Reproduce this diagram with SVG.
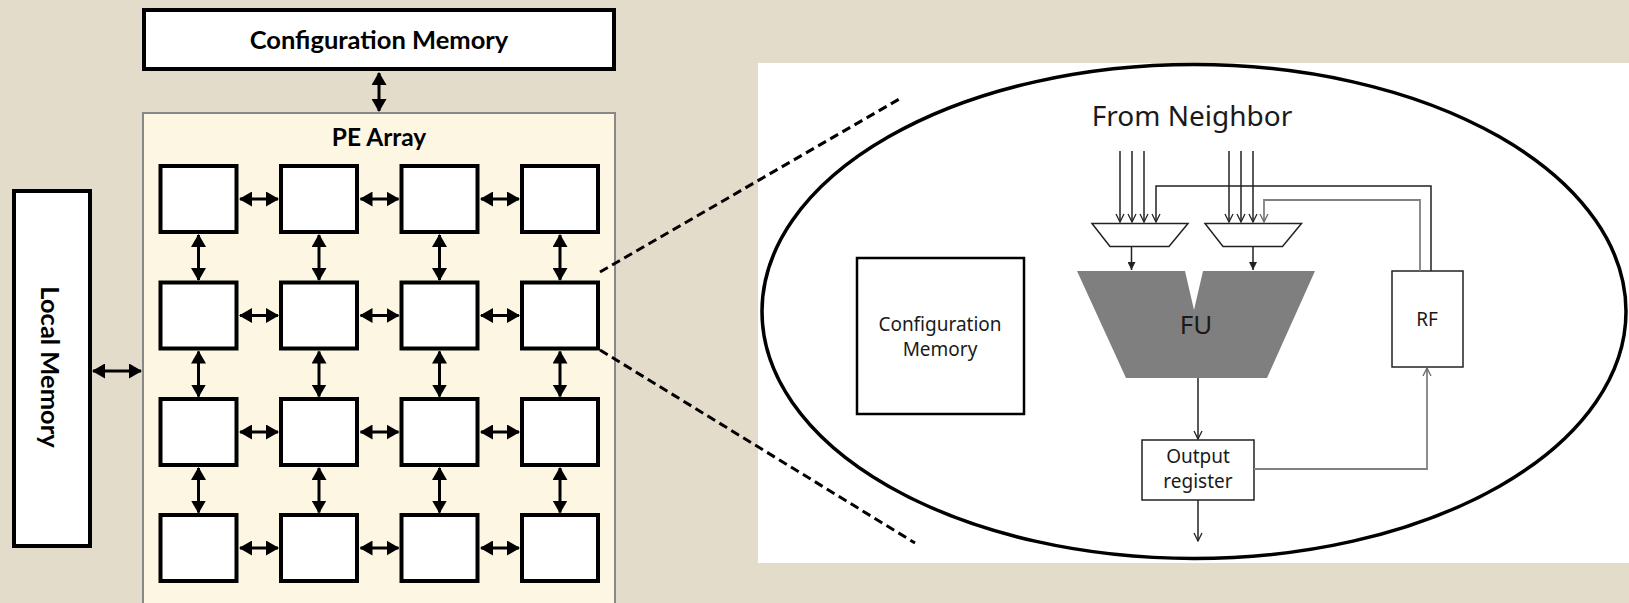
<svg xmlns="http://www.w3.org/2000/svg" width="1629" height="603" viewBox="0 0 1629 603">
<style>
.bold{font-family:Lato,"Liberation Sans",sans-serif;font-weight:700;fill:#000}
.thin{font-family:"Noto Sans","Open Sans",sans-serif;fill:#1a1a1a}
.pe{fill:#fff;stroke:#000;stroke-width:4}
.arr{stroke:#000;stroke-width:3;fill:none;marker-start:url(#fa);marker-end:url(#fa)}
.ln{stroke:#222;stroke-width:1.5;fill:none}
.lg{stroke:#808080;stroke-width:1.8;fill:none}
.dash{stroke:#000;stroke-width:3;stroke-dasharray:9,5;fill:none}
</style>
<defs>
<marker id="fa" markerUnits="userSpaceOnUse" markerWidth="13" markerHeight="15" viewBox="0 0 13 15" refX="12" refY="7.5" orient="auto-start-reverse">
<path d="M0,0 L13,7.5 L0,15 Z" fill="#000"/>
</marker>
<marker id="ov" markerUnits="userSpaceOnUse" markerWidth="10" markerHeight="10" viewBox="0 0 10 10" refX="9" refY="5" orient="auto">
<path d="M1,1 L9,5 L1,9" fill="none" stroke="#222" stroke-width="1.3"/>
</marker>
<marker id="ovg" markerUnits="userSpaceOnUse" markerWidth="10" markerHeight="10" viewBox="0 0 10 10" refX="9" refY="5" orient="auto">
<path d="M1,1 L9,5 L1,9" fill="none" stroke="#666" stroke-width="1.3"/>
</marker>
<marker id="sf" markerUnits="userSpaceOnUse" markerWidth="8" markerHeight="8" viewBox="0 0 8 8" refX="8" refY="4" orient="auto">
<path d="M0,0 L8,4 L0,8 Z" fill="#222"/>
</marker>
</defs>
<rect x="0" y="0" width="1629" height="603" fill="#e3dccb"/>

<g id="config-memory">
<rect x="144" y="10" width="470" height="59" fill="#fff" stroke="#000" stroke-width="4"/>
<text class="bold" x="379" y="49" font-size="25.5" text-anchor="middle">Configuration Memory</text>
</g>

<g id="local-memory">
<rect x="14" y="191" width="76" height="355" fill="#fff" stroke="#000" stroke-width="4"/>
<text class="bold" transform="translate(51,367) rotate(90)" x="0" y="0" font-size="25.5" text-anchor="middle" dominant-baseline="central">Local Memory</text>
</g>

<g id="pe-array">
<rect x="143" y="113" width="472" height="492" fill="#fdf6e3" stroke="#888" stroke-width="2"/>
<text class="bold" x="379" y="146" font-size="24.5" text-anchor="middle">PE Array</text>
</g>

<g id="pe-grid">
<rect class="pe" x="160.5" y="166" width="76" height="66"/>
<rect class="pe" x="281" y="166" width="76" height="66"/>
<rect class="pe" x="401.5" y="166" width="76" height="66"/>
<rect class="pe" x="522" y="166" width="76" height="66"/>
<rect class="pe" x="160.5" y="282.5" width="76" height="66"/>
<rect class="pe" x="281" y="282.5" width="76" height="66"/>
<rect class="pe" x="401.5" y="282.5" width="76" height="66"/>
<rect class="pe" x="522" y="282.5" width="76" height="66"/>
<rect class="pe" x="160.5" y="399" width="76" height="66"/>
<rect class="pe" x="281" y="399" width="76" height="66"/>
<rect class="pe" x="401.5" y="399" width="76" height="66"/>
<rect class="pe" x="522" y="399" width="76" height="66"/>
<rect class="pe" x="160.5" y="515" width="76" height="66"/>
<rect class="pe" x="281" y="515" width="76" height="66"/>
<rect class="pe" x="401.5" y="515" width="76" height="66"/>
<rect class="pe" x="522" y="515" width="76" height="66"/>
</g>

<g id="connectors">
<line class="arr" x1="379" y1="73" x2="379" y2="111"/>
<line class="arr" x1="93" y1="371" x2="141" y2="371"/>
<line class="arr" x1="240" y1="199" x2="278" y2="199"/>
<line class="arr" x1="360.5" y1="199" x2="398.5" y2="199"/>
<line class="arr" x1="481" y1="199" x2="519" y2="199"/>
<line class="arr" x1="240" y1="315.5" x2="278" y2="315.5"/>
<line class="arr" x1="360.5" y1="315.5" x2="398.5" y2="315.5"/>
<line class="arr" x1="481" y1="315.5" x2="519" y2="315.5"/>
<line class="arr" x1="240" y1="432" x2="278" y2="432"/>
<line class="arr" x1="360.5" y1="432" x2="398.5" y2="432"/>
<line class="arr" x1="481" y1="432" x2="519" y2="432"/>
<line class="arr" x1="240" y1="548" x2="278" y2="548"/>
<line class="arr" x1="360.5" y1="548" x2="398.5" y2="548"/>
<line class="arr" x1="481" y1="548" x2="519" y2="548"/>
<line class="arr" x1="198.5" y1="235" x2="198.5" y2="280"/>
<line class="arr" x1="319" y1="235" x2="319" y2="280"/>
<line class="arr" x1="439.5" y1="235" x2="439.5" y2="280"/>
<line class="arr" x1="560" y1="235" x2="560" y2="280"/>
<line class="arr" x1="198.5" y1="351.5" x2="198.5" y2="396.5"/>
<line class="arr" x1="319" y1="351.5" x2="319" y2="396.5"/>
<line class="arr" x1="439.5" y1="351.5" x2="439.5" y2="396.5"/>
<line class="arr" x1="560" y1="351.5" x2="560" y2="396.5"/>
<line class="arr" x1="198.5" y1="468" x2="198.5" y2="512.5"/>
<line class="arr" x1="319" y1="468" x2="319" y2="512.5"/>
<line class="arr" x1="439.5" y1="468" x2="439.5" y2="512.5"/>
<line class="arr" x1="560" y1="468" x2="560" y2="512.5"/>
</g>

<g id="zoom-panel">
<rect x="758" y="63" width="871" height="500" fill="#fff"/>
<ellipse cx="1194" cy="311.5" rx="432" ry="247" fill="none" stroke="#000" stroke-width="3.5"/>
</g>

<g id="zoom-lines">
<line class="dash" x1="600" y1="272" x2="901" y2="98"/>
<line class="dash" x1="600" y1="350" x2="915" y2="543"/>
</g>

<g id="from-neighbor">
<text class="thin" x="1192" y="126" font-size="28" text-anchor="middle">From Neighbor</text>
</g>

<g id="inner-config-memory">
<rect x="857" y="258" width="167" height="156" fill="#fff" stroke="#000" stroke-width="2.5"/>
<text class="thin" x="940" y="331" font-size="19" text-anchor="middle">Configuration</text>
<text class="thin" x="940" y="356" font-size="19" text-anchor="middle">Memory</text>
</g>

<g id="mux1">
<polygon points="1092,223.5 1188,223.5 1169,246.5 1110,246.5" fill="#fff" stroke="#222" stroke-width="1.5"/>
</g>
<g id="mux2">
<polygon points="1205,223.5 1301.5,223.5 1282.5,246.5 1223,246.5" fill="#fff" stroke="#222" stroke-width="1.5"/>
</g>

<g id="fu">
<polygon points="1077,271 1185,271 1194,310 1203,271 1315,271 1267,378 1126,378" fill="#7f7f7f"/>
<text class="thin" x="1196" y="334" font-size="26" text-anchor="middle">FU</text>
</g>

<g id="rf">
<rect x="1392" y="271" width="71" height="96" fill="#fff" stroke="#222" stroke-width="1.5"/>
<text class="thin" x="1427" y="326" font-size="19" text-anchor="middle">RF</text>
</g>

<g id="output-register">
<rect x="1142" y="440" width="112" height="60" fill="#fff" stroke="#222" stroke-width="1.5"/>
<text class="thin" x="1198" y="463" font-size="19" text-anchor="middle">Output</text>
<text class="thin" x="1198" y="488" font-size="19" text-anchor="middle">register</text>
</g>

<g id="inner-connectors">
<line class="ln" x1="1120" y1="151" x2="1120" y2="222" marker-end="url(#ov)"/>
<line class="ln" x1="1132" y1="151" x2="1132" y2="222" marker-end="url(#ov)"/>
<line class="ln" x1="1144" y1="151" x2="1144" y2="222" marker-end="url(#ov)"/>
<line class="ln" x1="1229" y1="151" x2="1229" y2="222" marker-end="url(#ov)"/>
<line class="ln" x1="1241" y1="151" x2="1241" y2="222" marker-end="url(#ov)"/>
<line class="ln" x1="1253" y1="151" x2="1253" y2="222" marker-end="url(#ov)"/>
<polyline class="ln" points="1431,271 1431,186 1156,186 1156,222" marker-end="url(#ov)"/>
<polyline class="lg" points="1420,271 1420,200 1264,200 1264,222" marker-end="url(#ovg)"/>
<line class="ln" x1="1131.5" y1="247" x2="1131.5" y2="270" marker-end="url(#sf)"/>
<line class="ln" x1="1253" y1="247" x2="1253" y2="270" marker-end="url(#sf)"/>
<line class="ln" x1="1198" y1="378" x2="1198" y2="439" marker-end="url(#ov)"/>
<line class="ln" x1="1198" y1="500" x2="1198" y2="541" marker-end="url(#ov)"/>
<polyline class="lg" points="1254,469 1427,469 1427,368" marker-end="url(#ovg)"/>
</g>
</svg>
